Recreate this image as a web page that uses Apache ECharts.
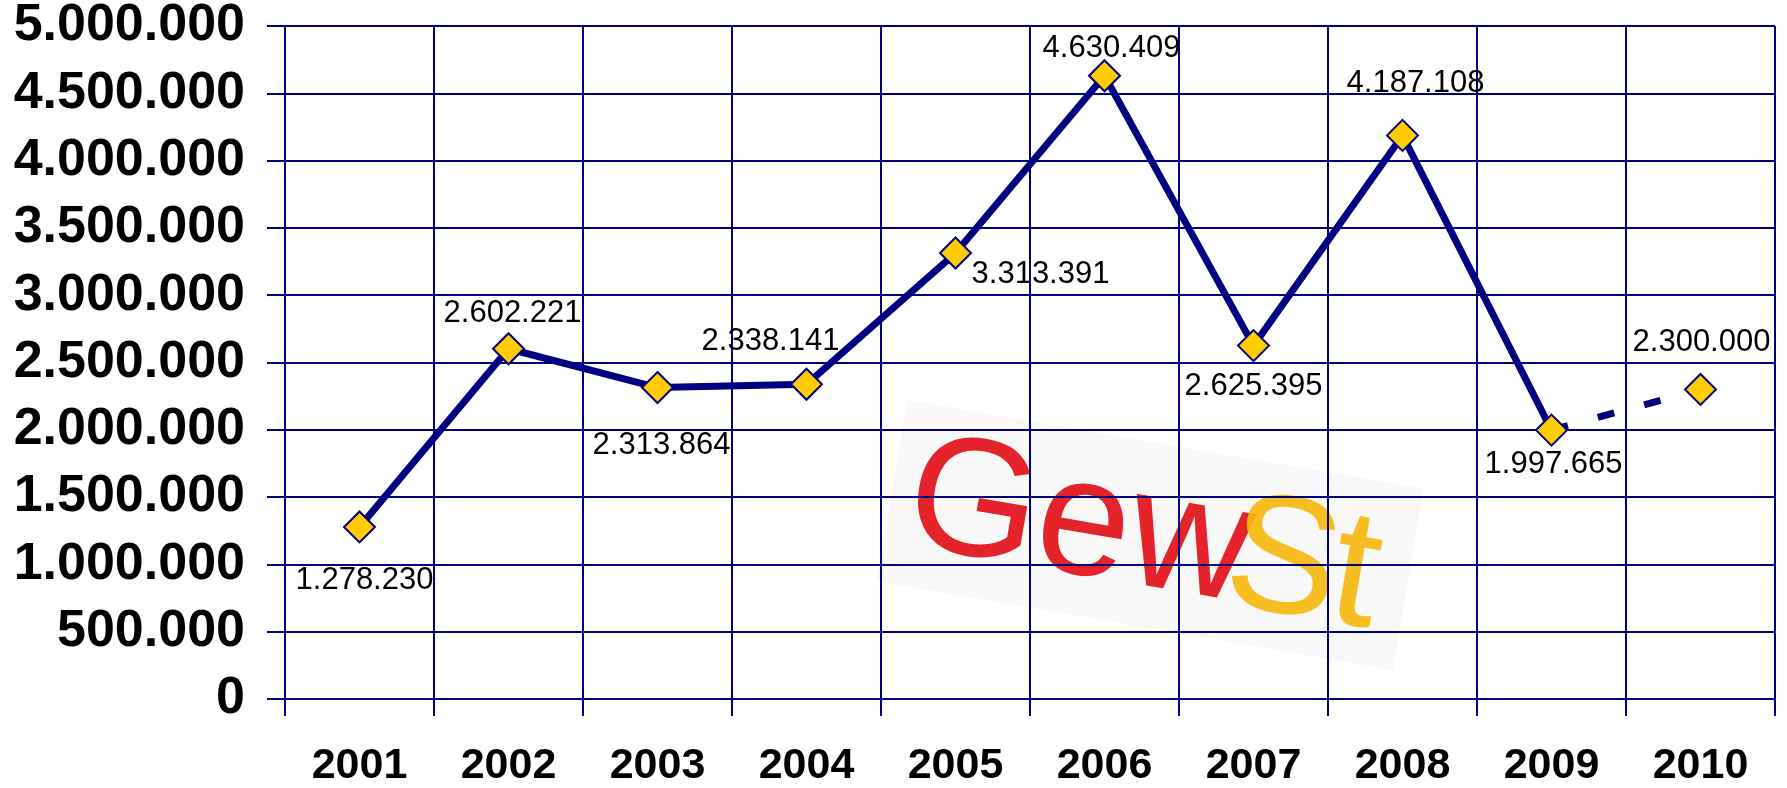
<!DOCTYPE html>
<html>
<head>
<meta charset="utf-8">
<script src="https://cdn.jsdelivr.net/npm/echarts@6/dist/echarts.min.js"></script>
<style>
  html, body { margin: 0; padding: 0; background: #fff; }
  #chart { width: 1787px; height: 788px; }
</style>
</head>
<body>
<div id="chart"></div>
<script>
// Daten
const years = ['2001', '2002', '2003', '2004', '2005', '2006', '2007', '2008', '2009', '2010'];
const values = [1278230, 2602221, 2313864, 2338141, 3313391, 4630409, 2625395, 4187108, 1997665, 2300000];
// letzter Wert ist Prognose (gestrichelt)
const forecastFrom = 8;
const yTicks = { min: 0, max: 5000000, step: 500000 };

// Label-Versatz [dx, dy] je Punkt (nur Layout)
const labelOffsets = [[5, 54], [4, -35], [4, 58], [-36, -43], [85, 21], [7, -27], [0, 41], [13, -52], [2, 34], [1, -47]];

const navy = '#000080';
const fmt = v => String(v).replace(/\B(?=(\d{3})+(?!\d))/g, '.');

function labelFor(i) {
  return { show: true, position: 'inside', offset: labelOffsets[i] };
}

const solidData = values.map((v, i) => i <= forecastFrom ? { value: v, label: labelFor(i) } : null);
const dashData = values.map((v, i) => {
  if (i < forecastFrom) return null;
  if (i === forecastFrom) return { value: v, symbol: 'none', label: { show: false } };
  return { value: v, label: labelFor(i) };
});

const chart = echarts.init(document.getElementById('chart'));
const option = {
  animation: false,
  backgroundColor: '#fff',
  textStyle: { fontFamily: 'Liberation Sans, Arial, sans-serif' },
  grid: { left: 285, right: 12, top: 25, bottom: 86, containLabel: false },
  xAxis: {
    type: 'category',
    data: years,
    boundaryGap: true,
    axisLine: { show: true, lineStyle: { color: navy, width: 2 } },
    axisTick: { show: true, length: 17, interval: 0, lineStyle: { color: navy, width: 2 } },
    splitLine: { show: true, interval: 0, lineStyle: { color: navy, width: 2 } },
    axisLabel: { color: '#000', fontSize: 43, fontWeight: 'bold', margin: 46, interval: 0 }
  },
  yAxis: {
    type: 'value',
    min: yTicks.min,
    max: yTicks.max,
    interval: yTicks.step,
    axisLine: { show: true, lineStyle: { color: navy, width: 2 } },
    axisTick: { show: true, length: 18, lineStyle: { color: navy, width: 2 } },
    splitLine: { show: true, lineStyle: { color: navy, width: 2 } },
    axisLabel: { color: '#000', fontSize: 52, fontWeight: 'bold', margin: 40, formatter: fmt }
  },
  graphic: [{
    type: 'group',
    x: 1150, y: 535,
    rotation: -0.17,
    z: -10,
    children: [
      { type: 'rect', z: -10, shape: { x: -262, y: -92, width: 524, height: 184 }, style: { fill: '#f8f8f8' } },
      { type: 'text', z: -9, x: -244, y: 4, style: { text: 'Gew', font: '168px "Liberation Sans", Arial, sans-serif', fill: '#e5232a', align: 'left', verticalAlign: 'middle' } },
      { type: 'text', z: -8, x: 80, y: 8, style: { text: 'S', font: '168px "Liberation Sans", Arial, sans-serif', fill: '#f5b80f', opacity: 0.92, align: 'left', verticalAlign: 'middle' } },
      { type: 'text', z: -8, x: 186, y: 8, style: { text: 't', font: '168px "Liberation Sans", Arial, sans-serif', fill: '#f5b80f', opacity: 0.92, align: 'left', verticalAlign: 'middle' } }
    ]
  }],
  series: [
    {
      type: 'line',
      data: solidData,
      symbol: 'diamond',
      symbolSize: 31,
      lineStyle: { color: navy, width: 7 },
      itemStyle: { color: '#ffcc00', borderColor: navy, borderWidth: 2 },
      label: { color: '#000', fontSize: 31, formatter: p => fmt(p.value) },
      z: 3
    },
    {
      type: 'line',
      data: dashData,
      symbol: 'diamond',
      symbolSize: 31,
      lineStyle: { color: navy, width: 7, type: [17, 31] },
      itemStyle: { color: '#ffcc00', borderColor: navy, borderWidth: 2 },
      label: { color: '#000', fontSize: 31, formatter: p => fmt(p.value) },
      z: 2
    }
  ]
};
chart.setOption(option);
</script>
</body>
</html>
